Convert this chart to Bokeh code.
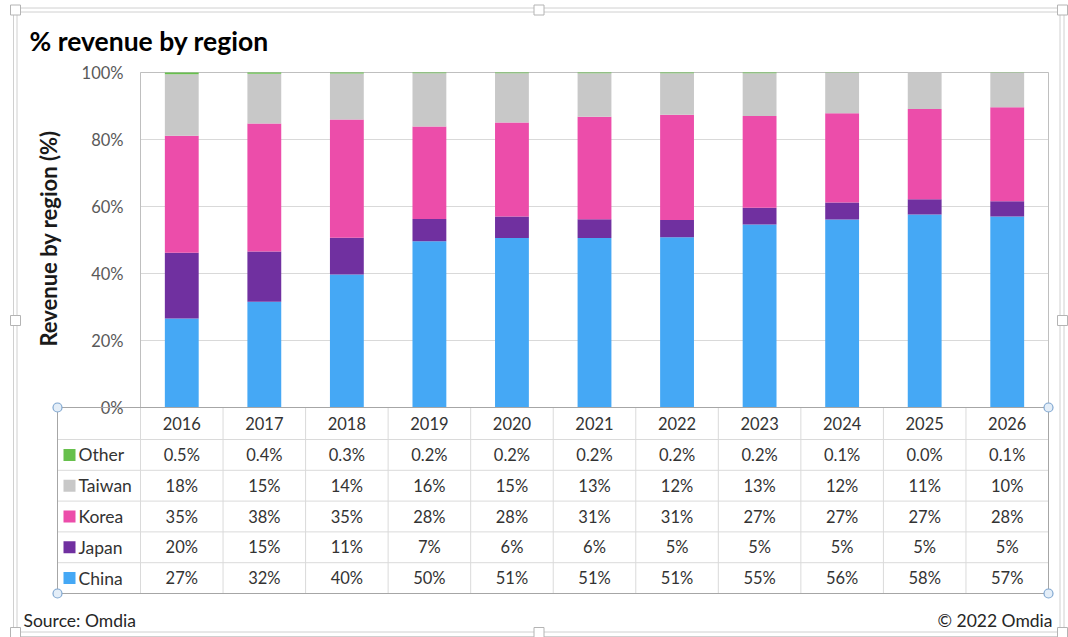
import math
from bokeh.plotting import figure
from bokeh.models import Range1d, ColumnDataSource
from bokeh.core.properties import value
from bokeh.embed import file_html
from bokeh.resources import INLINE

# ---------------- data ----------------
years = ["2016", "2017", "2018", "2019", "2020", "2021", "2022", "2023", "2024", "2025", "2026"]
china = [26.6, 31.6, 39.7, 49.6, 50.6, 50.6, 50.8, 54.6, 56.1, 57.6, 57.0]
japan = [19.6, 15.0, 11.0, 6.7, 6.4, 5.6, 5.2, 5.0, 5.1, 4.6, 4.6]
korea = [34.9, 38.2, 35.3, 27.6, 28.1, 30.6, 31.4, 27.4, 26.6, 26.9, 28.0]
taiwan = [18.4, 14.8, 13.7, 15.9, 14.7, 13.0, 12.4, 12.8, 12.1, 10.9, 10.3]
other = [0.5, 0.4, 0.3, 0.2, 0.2, 0.2, 0.2, 0.2, 0.1, 0.0, 0.1]
series_names = ["China", "Japan", "Korea", "Taiwan", "Other"]
series_colors = ["#45A8F5", "#7030A0", "#EC4DAA", "#C8C8C8", "#67C04C"]
y_ticks = [0, 20, 40, 60, 80, 100]
title_text = "% revenue by region"
y_label = "Revenue by region (%)"
source_text = "Source: Omdia"
copyright_text = "\u00a9 2022 Omdia"

# ---------------- geometry (pixels) ----------------
W, H = 1068, 637
PX_L, PX_R, PX_T, PX_B = 140, 1048, 72, 407
TBL_L, TBL_B = 57, 593
HEAD_H = 32
ncat = len(years)
cw = (PX_R - PX_L) / ncat
ppu = (PX_B - PX_T) / 100.0


def X(px):
    return (px - PX_L) / cw


def Y(py):
    return (PX_B - py) / ppu


FONT = value("Lato")

p = figure(width=W, height=H, x_range=Range1d(X(0), X(W)), y_range=Range1d(Y(H), Y(0)),
           min_border=0, output_backend="svg", toolbar_location=None,
           background_fill_color="white", border_fill_color="white")
p.axis.visible = False
p.grid.visible = False
p.outline_line_color = None

# outer chart frame (double line) and selection handles
for (l, t, r, b) in [(13, 7.5, 1063.5, 636), (16.5, 11.5, 1059.5, 631.5)]:
    p.quad(left=[X(l)], right=[X(r)], top=[Y(t)], bottom=[Y(b)], fill_color=None,
           line_color="#D0D0D0", line_width=1)
hx = [15, 538.5, 1062, 15, 1062, 15, 538.5, 1062]
hy = [9.5, 9.5, 9.5, 320, 320, 632, 632, 632]
p.scatter(x=[X(v) for v in hx], y=[Y(v) for v in hy], marker="square", size=10,
          fill_color="white", line_color="#B4B4B4")

# gridlines
p.segment(x0=[0] * len(y_ticks), x1=[ncat] * len(y_ticks), y0=y_ticks, y1=y_ticks,
          line_color="#D9D9D9", line_width=1)

# plot area border (top, left, right) - drawn under the bars
p.multi_line(xs=[[0, 0, ncat, ncat]], ys=[[0, 100, 100, 0]], line_color="#BFBFBF", line_width=1)

# stacked bars
src = ColumnDataSource(dict(x=[i + 0.5 for i in range(ncat)], China=china, Japan=japan,
                            Korea=korea, Taiwan=taiwan, Other=other))
p.vbar_stack(series_names, x="x", width=0.41, color=series_colors, source=src, line_width=0)

# y tick labels
p.text(x=[X(123)] * len(y_ticks), y=y_ticks, text=[f"{v}%" for v in y_ticks],
       text_font=FONT, text_font_size="16.5px", text_color="#595959",
       text_align="right", text_baseline="middle")

# y axis label
p.text(x=[X(48)], y=[Y(238)], text=[y_label], angle=math.pi / 2, text_font=FONT,
       text_font_size="22px", text_font_style="bold", text_color="#1A1A1A",
       text_align="center", text_baseline="middle")

# title
p.text(x=[X(29)], y=[Y(40)], text=[title_text], text_font=FONT, text_font_size="26.5px",
       text_font_style="bold", text_color="#000000", text_align="left", text_baseline="middle")

# ---------------- data table ----------------
row_h = (TBL_B - PX_B - HEAD_H) / len(series_names)
row_edges = [PX_B, PX_B + HEAD_H] + [PX_B + HEAD_H + row_h * (k + 1) for k in range(len(series_names))]
# inner horizontal lines
p.segment(x0=[X(TBL_L)] * (len(row_edges) - 2), x1=[ncat] * (len(row_edges) - 2),
          y0=[Y(v) for v in row_edges[1:-1]], y1=[Y(v) for v in row_edges[1:-1]],
          line_color="#DADADA", line_width=1)
# inner vertical lines
p.segment(x0=list(range(ncat)), x1=list(range(ncat)), y0=[0] * ncat, y1=[Y(TBL_B)] * ncat,
          line_color="#DADADA", line_width=1)
# outer border
p.quad(left=[X(TBL_L)], right=[ncat], top=[0], bottom=[Y(TBL_B)], fill_color=None,
       line_color="#A6A6A6", line_width=1)

# header years
p.text(x=[i + 0.5 for i in range(ncat)], y=[Y(PX_B + HEAD_H / 2)] * ncat, text=years,
       text_font=FONT, text_font_size="16.5px", text_color="#333333",
       text_align="center", text_baseline="middle")

table_rows = [("Other", other, "#67C04C", "{:.1f}%"),
              ("Taiwan", taiwan, "#C8C8C8", "{:.0f}%"),
              ("Korea", korea, "#EC4DAA", "{:.0f}%"),
              ("Japan", japan, "#7030A0", "{:.0f}%"),
              ("China", china, "#45A8F5", "{:.0f}%")]
for k, (name, vals, col, fmt) in enumerate(table_rows):
    yc = Y(row_edges[k + 1] + row_h / 2)
    p.text(x=[i + 0.5 for i in range(ncat)], y=[yc] * ncat, text=[fmt.format(v) for v in vals],
           text_font=FONT, text_font_size="16.5px", text_color="#333333",
           text_align="center", text_baseline="middle")
    p.scatter(x=[X(69)], y=[yc], marker="square", size=12, fill_color=col, line_color=None)
    p.text(x=[X(78)], y=[yc], text=[name], text_font=FONT, text_font_size="17.5px",
           text_color="#333333", text_align="left", text_baseline="middle")

# table corner handles
cx = [TBL_L, PX_R, TBL_L, PX_R]
cy = [PX_B, PX_B, TBL_B, TBL_B]
p.scatter(x=[X(v) for v in cx], y=[Y(v) for v in cy], marker="circle", size=9,
          fill_color="#E4EEF8", line_color="#7FA6D0", line_width=1.2)

# footer
p.text(x=[X(23)], y=[Y(620)], text=[source_text], text_font=FONT, text_font_size="17.5px",
       text_color="#262626", text_align="left", text_baseline="middle")
p.text(x=[X(1052)], y=[Y(620)], text=[copyright_text], text_font=FONT, text_font_size="17.5px",
       text_color="#262626", text_align="right", text_baseline="middle")

open("out.html", "w").write(file_html(p, INLINE))
